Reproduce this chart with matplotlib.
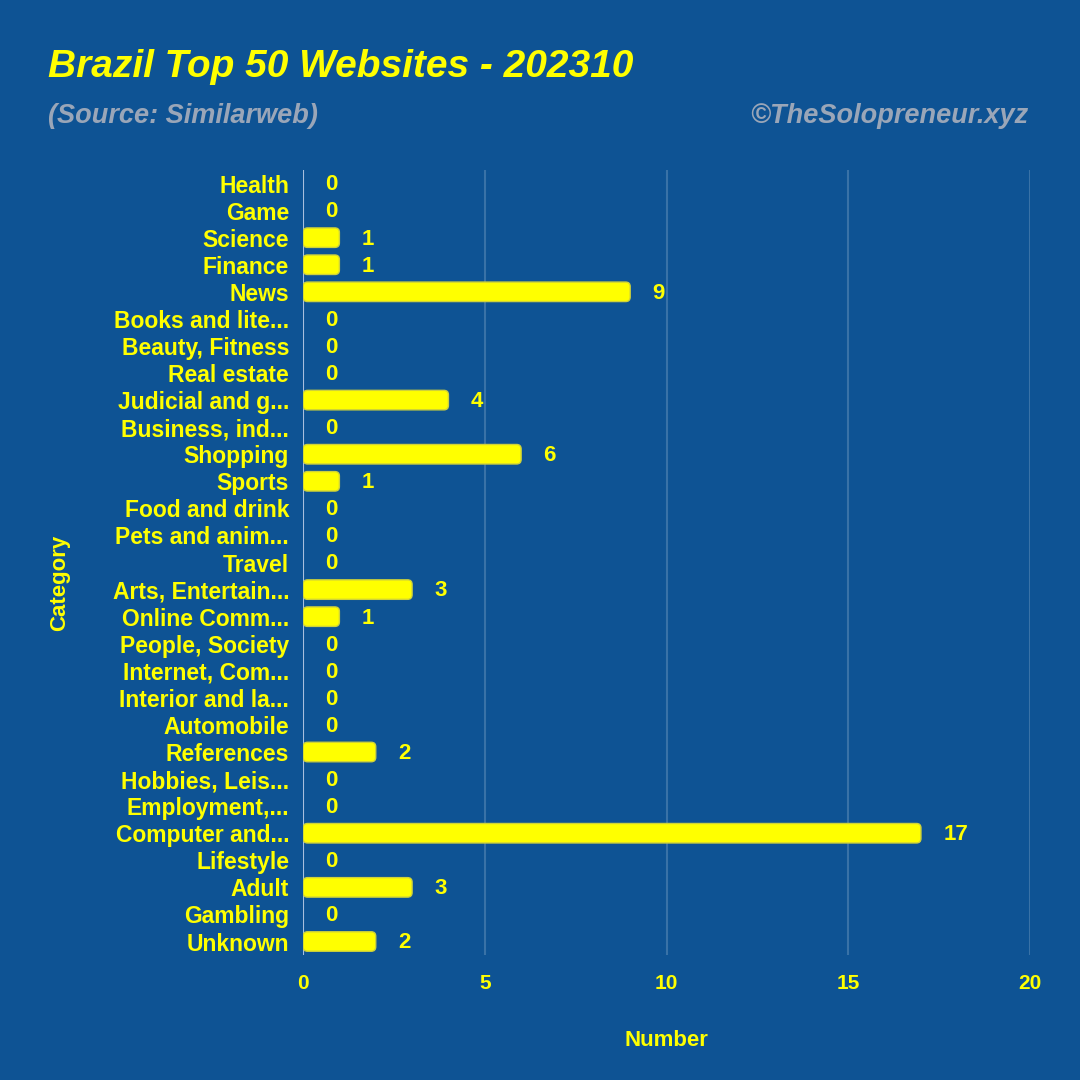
import matplotlib
matplotlib.use("Agg")
import matplotlib.pyplot as plt
from matplotlib.patches import FancyBboxPatch

categories = ["Health", "Game", "Science", "Finance", "News", "Books and lite...",
              "Beauty, Fitness", "Real estate", "Judicial and g...", "Business, ind...",
              "Shopping", "Sports", "Food and drink", "Pets and anim...", "Travel",
              "Arts, Entertain...", "Online Comm...", "People, Society", "Internet, Com...",
              "Interior and la...", "Automobile", "References", "Hobbies, Leis...",
              "Employment,...", "Computer and...", "Lifestyle", "Adult", "Gambling", "Unknown"]
values = [0, 0, 1, 1, 9, 0, 0, 0, 4, 0, 6, 1, 0, 0, 0, 3, 1, 0, 0, 0, 0, 2, 0, 0, 17, 0, 3, 0, 2]
xticks = [0, 5, 10, 15, 20]

fam = "Liberation Sans"
BG = "#0E5394"
YEL = "#FFFF00"
GRAY = "#9AA6B8"

fig = plt.figure(figsize=(10.8, 10.8), dpi=100)
fig.patch.set_facecolor(BG)
ax = fig.add_axes([0.2806, 0.1157, 0.9537 - 0.2806, 0.8426 - 0.1157])
ax.set_facecolor(BG)

n = len(categories)
ypos = list(range(n))
bars = ax.barh(ypos, values, height=0.72, color=YEL, zorder=3)
ax.set_xlim(0, 20)
ax.set_ylim(n - 0.5, -0.5)

# rounded versions of the bars
bbox = ax.get_position()
px_x = bbox.width * 1080 / 20.0
px_y = bbox.height * 1080 / n
for b in bars:
    b.set_visible(False)
    w = b.get_width()
    if w <= 0:
        continue
    r = 4.5 / px_x
    fb = FancyBboxPatch((b.get_x(), b.get_y()), w, b.get_height(),
                        boxstyle=f"round,pad=0,rounding_size={r}",
                        mutation_aspect=px_x / px_y,
                        facecolor=YEL, edgecolor="#CFD23A", linewidth=1.0, zorder=3)
    ax.add_patch(fb)

for y, v in zip(ypos, values):
    ax.annotate(str(v), xy=(v, y), xytext=(16, -1), textcoords="offset points",
                ha="left", va="center", color=YEL, fontsize=16, fontweight="bold",
                family=fam, zorder=4)

ax.set_xticks(xticks)
ax.set_xticklabels([str(t) for t in xticks])
ax.set_yticks(ypos)
ax.set_yticklabels(categories)
for lab in ax.get_yticklabels():
    lab.set_family(fam)
    lab.set_fontweight("bold")
    lab.set_color(YEL)
    lab.set_fontsize(16.5)
for lab in ax.get_xticklabels():
    lab.set_family(fam)
    lab.set_fontweight("bold")
    lab.set_color(YEL)
    lab.set_fontsize(15)
ax.tick_params(axis="y", length=0, pad=10)
ax.tick_params(axis="x", length=0, pad=14)
ax.grid(axis="x", color="#FFFFFF", alpha=0.18, linewidth=1.5, zorder=0)
ax.axvline(0, color="#A8BEDD", linewidth=1.5, zorder=2)
for s in ax.spines.values():
    s.set_visible(False)

ax.set_xlabel("Number", color=YEL, fontsize=16, fontweight="bold", family=fam, labelpad=26)
fig.text(60 / 1080, 1 - 583 / 1080, "Category", rotation=90, color=YEL, fontsize=16,
         fontweight="bold", family=fam, ha="center", va="center")

fig.text(48 / 1080, 1 - 67 / 1080, "Brazil Top 50 Websites - 202310", color=YEL,
         fontsize=28, fontweight="bold", fontstyle="italic", family=fam, ha="left", va="center")
fig.text(48 / 1080, 1 - 116 / 1080, "(Source: Similarweb)", color=GRAY,
         fontsize=19.5, fontweight="bold", fontstyle="italic", family=fam, ha="left", va="center")
fig.text(1028 / 1080, 1 - 116 / 1080, "©TheSolopreneur.xyz", color=GRAY,
         fontsize=19.5, fontweight="bold", fontstyle="italic", family=fam, ha="right", va="center")

fig.savefig("out.png", dpi=100, facecolor=BG)
